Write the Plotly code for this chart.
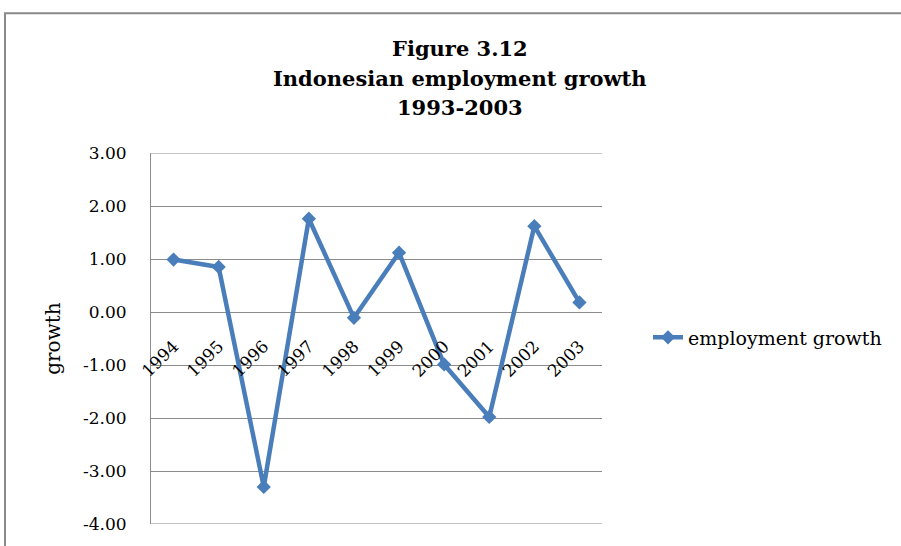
import plotly.graph_objects as go

years = ["1994", "1995", "1996", "1997", "1998", "1999", "2000", "2001", "2002", "2003"]
growth = [0.99, 0.85, -3.30, 1.76, -0.11, 1.12, -0.99, -1.98, 1.62, 0.18]
y_tick_vals = [3, 2, 1, 0, -1, -2, -3, -4]
y_tick_text = ["3.00", "2.00", "1.00", "0.00", "-1.00", "-2.00", "-3.00", "-4.00"]
series_name = "employment growth"
title_lines = ["Figure 3.12", "Indonesian employment growth", "1993-2003"]

W, H = 901, 546
L, R, T, B = 151, 602, 153, 527
pw, ph = R - L, B - T

def px_x(x):
    return (x - L) / pw

def px_y(y):
    return (B - y) / ph

blue = "#4A7EBB"
grid = "#8C8C8C"

fig = go.Figure()
fig.add_trace(go.Scatter(
    x=years, y=growth, mode="lines+markers", name=series_name,
    line=dict(color=blue, width=4.5),
    marker=dict(symbol="diamond", size=11, color=blue),
))

title_centers = [48, 78, 107]
annotations = [
    dict(text=t, x=px_x(460), y=px_y(yc), xref="paper", yref="paper",
         xanchor="center", yanchor="middle", showarrow=False,
         font=dict(family="DejaVu Serif", size=21, color="black", weight="bold"))
    for t, yc in zip(title_lines, title_centers)
]

shapes = [
    dict(type="rect", xref="paper", yref="paper",
         x0=px_x(5), x1=px_x(910), y0=px_y(560), y1=px_y(12),
         line=dict(color="#8A8A8A", width=2), fillcolor="rgba(0,0,0,0)", layer="below"),
]
for v in (y_tick_vals[0], y_tick_vals[-1]):
    shapes.append(dict(type="line", xref="paper", yref="y", x0=0, x1=1, y0=v, y1=v,
                       line=dict(color=grid, width=1), layer="below"))

fig.update_layout(
    width=W, height=H,
    margin=dict(l=L, r=W - R, t=T, b=H - B, pad=0),
    paper_bgcolor="white", plot_bgcolor="white",
    showlegend=True,
    legend=dict(x=px_x(648), y=px_y(339), xanchor="left", yanchor="middle",
                xref="paper", yref="paper",
                font=dict(family="DejaVu Serif", size=19, color="black"),
                bgcolor="rgba(0,0,0,0)", borderwidth=0),
    xaxis=dict(type="category", range=[-0.5, len(years) - 0.5],
               anchor="free", position=4 / 7,
               showgrid=False, showline=False, zeroline=False,
               ticks="", tickangle=-45, ticklabelstandoff=20,
               tickfont=dict(family="DejaVu Serif", size=17, color="black")),
    yaxis=dict(range=[-4, 3], tickvals=y_tick_vals, ticktext=y_tick_text,
               showgrid=True, gridcolor=grid, gridwidth=1,
               showline=True, linecolor=grid, linewidth=1,
               zeroline=False, ticks="", ticklabelstandoff=20,
               tickfont=dict(family="DejaVu Serif", size=17, color="black"),
               title=dict(text="growth", standoff=16,
                          font=dict(family="DejaVu Serif", size=20, color="black"))),
    annotations=annotations,
    shapes=shapes,
)

fig.write_html("out.html")
